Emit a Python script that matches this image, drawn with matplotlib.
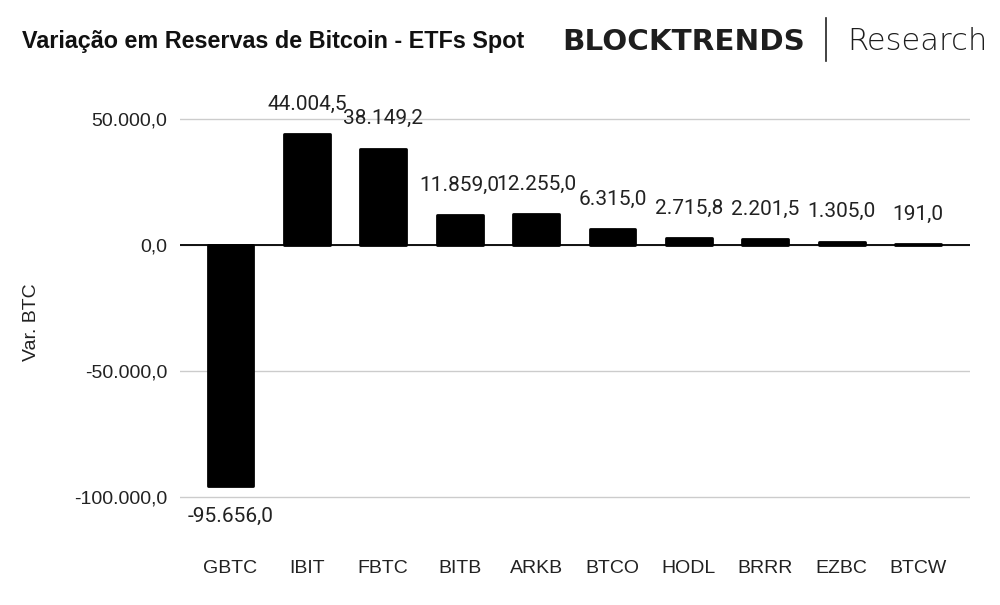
import matplotlib
matplotlib.use('Agg')
import matplotlib.pyplot as plt

plt.rcParams['font.family'] = ['Liberation Sans', 'DejaVu Sans']

# dados
etfs = ['GBTC', 'IBIT', 'FBTC', 'BITB', 'ARKB', 'BTCO', 'HODL', 'BRRR', 'EZBC', 'BTCW']
var_btc = [-95656.0, 44004.5, 38149.2, 11859.0, 12255.0, 6315.0, 2715.8, 2201.5, 1305.0, 191.0]
y_ticks = [-100000, -50000, 0, 50000]


def fmt_br(v):
    s = f'{v:,.1f}'
    return s.replace(',', 'X').replace('.', ',').replace('X', '.')


fig = plt.figure(figsize=(10, 6.05), dpi=100)
# y: 50000 -> px 119, -100000 -> px 497
ax = fig.add_axes([0.18, 0.1369, 0.79, 0.6873])

x = range(len(etfs))
ax.bar(x, var_btc, width=0.6, color='black', edgecolor='black',
       linewidth=2, joinstyle='round', zorder=3)

for i, v in enumerate(var_btc):
    off = 30 if v >= 0 else -30
    ax.annotate(fmt_br(v), (i, v), xytext=(0, off), textcoords='offset pixels',
                ha='center', va='center', fontsize=15, color='#222222',
                family=['Roboto', 'DejaVu Sans'])

ax.set_xlim(-0.66, 9.68)
ax.set_ylim(-110000, 55000)
ax.set_yticks(y_ticks)
ax.set_yticklabels([fmt_br(t) for t in y_ticks])
ax.set_xticks(list(x))
ax.set_xticklabels(etfs)
ax.tick_params(axis='x', length=0, pad=27, labelsize=14, labelcolor='#222222')
ax.tick_params(axis='y', length=0, pad=9, labelsize=14, labelcolor='#222222')
ax.grid(axis='y', color='#cccccc', linewidth=1, zorder=0)
ax.axhline(0, color='black', linewidth=1.3, zorder=4)
for s in ax.spines.values():
    s.set_visible(False)
fig.text(0.032, 1 - 322 / 605, 'Var. BTC', rotation=90, fontsize=14, color='#222222',
         ha='center', va='center')

fig.text(0.022, 0.931, 'Variação em Reservas de Bitcoin - ETFs Spot', fontsize=16.8,
         fontweight='bold', va='center', ha='left', color='#111111')
fig.text(0.562, 0.931, 'BLOCKTRENDS', family='DejaVu Sans', fontweight='bold', fontsize=21.2,
         va='center', ha='left', color='#1e1e1e')
fig.add_artist(plt.Line2D([0.826, 0.826], [0.90, 0.97], color='#222222', linewidth=1.2,
                          transform=fig.transFigure))
fig.text(0.847, 0.931, 'Research', family='DejaVu Sans', fontweight=200, fontsize=22,
         va='center', ha='left', color='#1e1e1e')

fig.savefig('out.png', dpi=100, facecolor='white')
